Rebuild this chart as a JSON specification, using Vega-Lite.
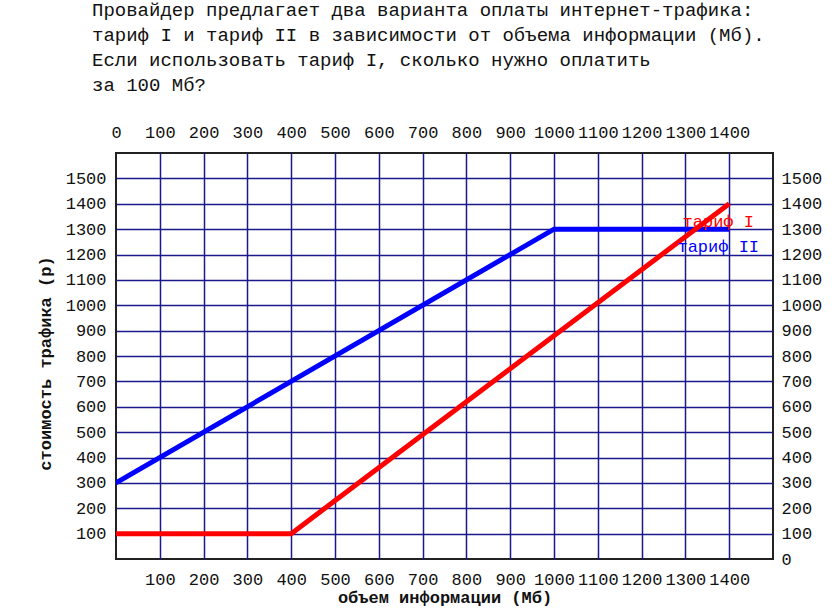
{
  "$schema": "https://vega.github.io/schema/vega-lite/v6.json",
  "autosize": {"type": "none"},
  "padding": {"left": 116, "top": 153, "right": 63, "bottom": 50},
  "width": 657,
  "height": 406,
  "background": "white",
  "title": {
    "text": [
      "Провайдер предлагает два варианта оплаты интернет-трафика:",
      "тариф I и тариф II в зависимости от объема информации (Мб).",
      "Если использовать тариф I, сколько нужно оплатить",
      "за 100 Мб?"
    ],
    "anchor": "start",
    "frame": "group",
    "font": "Liberation Mono",
    "fontSize": 19,
    "fontWeight": "normal",
    "color": "#111111",
    "lineHeight": 25,
    "dx": -24,
    "offset": 28
  },
  "config": {
    "view": {"stroke": "#222222", "strokeWidth": 2},
    "axis": {
      "labelFont": "Liberation Mono",
      "labelFontSize": 17,
      "labelColor": "#111111",
      "titleFont": "Liberation Mono",
      "titleFontSize": 17,
      "titleFontWeight": "bold",
      "titleColor": "#111111",
      "ticks": false,
      "tickSize": 0,
      "domain": false,
      "labelOverlap": false,
      "labelFlush": false,
      "format": "d",
      "gridColor": "#1a1a8c",
      "gridOpacity": 1,
      "gridWidth": 1.5
    }
  },
  "data": {
    "values": [
      {"x": 0, "y": 300, "s": "тариф II"},
      {"x": 1000, "y": 1300, "s": "тариф II"},
      {"x": 1400, "y": 1300, "s": "тариф II"},
      {"x": 0, "y": 100, "s": "тариф I"},
      {"x": 400, "y": 100, "s": "тариф I"},
      {"x": 1400, "y": 1400, "s": "тариф I"}
    ]
  },
  "layer": [
    {
      "mark": {"type": "line", "strokeWidth": 5, "clip": true},
      "encoding": {
        "x": {
          "field": "x", "type": "quantitative",
          "scale": {"domain": [0, 1500], "nice": false, "zero": false},
          "axis": {
            "orient": "bottom",
            "values": [100,200,300,400,500,600,700,800,900,1000,1100,1200,1300,1400],
            "grid": true,
            "labelPadding": 12,
            "title": "объем информации (Мб)",
            "titlePadding": 2
          }
        },
        "y": {
          "field": "y", "type": "quantitative",
          "scale": {"domain": [0, 1600], "nice": false, "zero": false},
          "axis": {
            "orient": "left",
            "values": [100,200,300,400,500,600,700,800,900,1000,1100,1200,1300,1400,1500],
            "grid": true,
            "labelPadding": 10,
            "title": "стоимость трафика (р)",
            "titleX": -71,
            "titleY": 210,
            "titleAngle": -90,
            "titleAlign": "center",
            "titleBaseline": "middle"
          }
        },
        "color": {
          "field": "s", "type": "nominal",
          "scale": {"domain": ["тариф II", "тариф I"], "range": ["#0000ff", "#ff0000"]},
          "legend": null
        },
        "order": {"field": "x", "type": "quantitative"}
      }
    },
    {
      "data": {
        "values": [
          {"x": 1375, "y": 1328, "s": "тариф I"},
          {"x": 1375, "y": 1230, "s": "тариф II"}
        ]
      },
      "mark": {"type": "text", "font": "Liberation Mono", "fontSize": 17, "align": "center", "baseline": "middle"},
      "encoding": {
        "x": {"field": "x", "type": "quantitative", "axis": null},
        "y": {"field": "y", "type": "quantitative", "axis": null},
        "text": {"field": "s"},
        "color": {"field": "s", "type": "nominal", "legend": null}
      }
    },
    {
      "mark": {"type": "point", "opacity": 0},
      "encoding": {
        "x": {
          "field": "x", "type": "quantitative",
          "axis": {
            "orient": "top",
            "values": [0,100,200,300,400,500,600,700,800,900,1000,1100,1200,1300,1400],
            "grid": false,
            "labelPadding": 12,
            "title": null
          }
        },
        "y": {
          "field": "y", "type": "quantitative",
          "axis": {
            "orient": "right",
            "values": [0,100,200,300,400,500,600,700,800,900,1000,1100,1200,1300,1400,1500],
            "grid": false,
            "labelPadding": 8,
            "title": null
          }
        }
      }
    }
  ],
  "resolve": {"axis": {"x": "independent", "y": "independent"}}
}
